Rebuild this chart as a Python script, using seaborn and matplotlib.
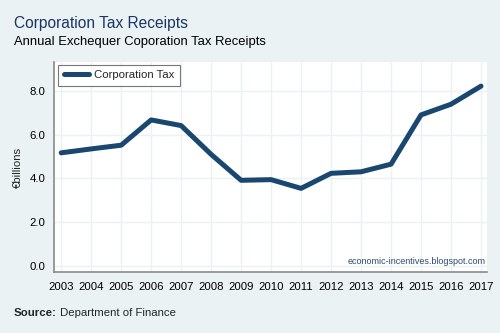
import matplotlib
matplotlib.use("Agg")
import matplotlib.pyplot as plt
import seaborn as sns
import pandas as pd

years = [2003, 2004, 2005, 2006, 2007, 2008, 2009, 2010, 2011, 2012, 2013, 2014, 2015, 2016, 2017]
receipts = [5.17, 5.35, 5.52, 6.68, 6.42, 5.10, 3.91, 3.94, 3.54, 4.23, 4.30, 4.65, 6.91, 7.40, 8.23]
series_name = "Corporation Tax"
yticks = [0.0, 2.0, 4.0, 6.0, 8.0]

df = pd.DataFrame({"Year": years, "Receipts": receipts, "Series": series_name})

sns.set_theme(style="white")
plt.rcParams["font.family"] = ["Liberation Sans", "DejaVu Sans"]

BG = "#EAF2F3"
NAVY = "#1A476F"
FS = 8.2

fig = plt.figure(figsize=(5.0, 3.33), dpi=100, facecolor=BG)
ax = fig.add_axes([0.108, 0.183, 0.866, 0.631])
ax.set_facecolor("white")

sns.lineplot(data=df, x="Year", y="Receipts", hue="Series", palette=[NAVY],
             linewidth=3.6, ax=ax, legend=True)

ax.set_xlim(2002.76, 2017.2)
ax.set_ylim(-0.30, 9.34)
ax.set_xticks(years)
ax.set_xticklabels([str(y) for y in years], fontsize=FS)
ax.set_yticks(yticks)
ax.set_yticklabels([f"{v:.1f}" for v in yticks], fontsize=FS)
ax.grid(True, color=BG, linewidth=1.0)
ax.set_axisbelow(True)

for s in ["top", "right"]:
    ax.spines[s].set_visible(False)
for s in ["left", "bottom"]:
    ax.spines[s].set_color("#8a8a8a")
    ax.spines[s].set_linewidth(1.2)
ax.tick_params(axis="both", direction="out", length=4, width=1, color="#8a8a8a",
               labelcolor="black", pad=2)
ax.tick_params(axis="x", pad=3)

ax.set_xlabel("")
ax.set_ylabel("€billions", fontsize=FS, labelpad=5)

leg = ax.legend(loc="upper left", bbox_to_anchor=(0.005, 0.995), fontsize=FS,
                frameon=True, fancybox=False, handlelength=2.2, borderpad=0.45,
                handletextpad=0.5, borderaxespad=0.2)
leg.get_frame().set_edgecolor("#555555")
leg.get_frame().set_linewidth(0.8)
for line in leg.get_lines():
    line.set_linewidth(3.6)

ax.text(0.997, 0.03, "economic-incentives.blogspot.com", transform=ax.transAxes,
        ha="right", va="bottom", fontsize=6.5, color="#2b4a6f")

fig.text(0.028, 0.916, "Corporation Tax Receipts", fontsize=11.2, color="#1c3566",
         ha="left", va="baseline")
fig.text(0.028, 0.866, "Annual Exchequer Coporation Tax Receipts", fontsize=9.4,
         color="black", ha="left", va="baseline")
src = fig.text(0.028, 0.052, "Source:", fontsize=FS, fontweight="bold",
               ha="left", va="baseline")
fig.canvas.draw()
ax.annotate(" Department of Finance", xy=(1, 0), xycoords=src, fontsize=FS,
            ha="left", va="bottom", annotation_clip=False)

fig.savefig("out.png", dpi=100, facecolor=BG)
